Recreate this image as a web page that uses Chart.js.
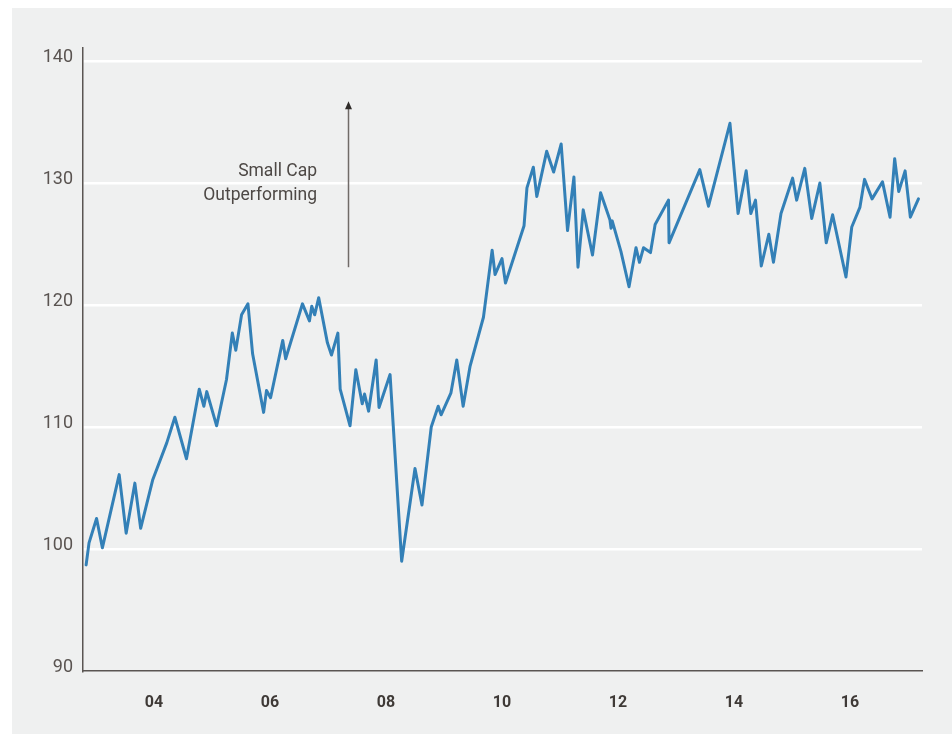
<!DOCTYPE html>
<html>
<head>
<meta charset="utf-8">
<script src="https://cdn.jsdelivr.net/npm/chart.js@4.4.1/dist/chart.umd.min.js"></script>
<style>
  html, body { margin: 0; padding: 0; background: #fff; }
  #wrap { position: absolute; left: 12px; top: 8px; width: 940px; height: 726px; background: #eff0f0; }
</style>
</head>
<body>
<div id="wrap"><canvas id="chart" width="940" height="726"></canvas></div>
<script>
// dates as decimal years
const years = [
  2002.83, 2002.88, 2003.01, 2003.11, 2003.40, 2003.52, 2003.67, 2003.77, 2003.98, 2004.22,
  2004.36, 2004.56, 2004.78, 2004.86, 2004.91, 2005.08, 2005.25, 2005.35, 2005.41, 2005.51,
  2005.62, 2005.70, 2005.89, 2005.94, 2006.01, 2006.22, 2006.27, 2006.56, 2006.68, 2006.72,
  2006.77, 2006.84, 2006.99, 2007.06, 2007.17, 2007.21, 2007.38, 2007.48, 2007.59, 2007.63,
  2007.70, 2007.83, 2007.88, 2008.07, 2008.27, 2008.50, 2008.62, 2008.78, 2008.90, 2008.95,
  2009.12, 2009.22, 2009.33, 2009.45, 2009.68, 2009.83, 2009.88, 2010.00, 2010.06, 2010.38,
  2010.43, 2010.54, 2010.60, 2010.77, 2010.89, 2011.02, 2011.13, 2011.24, 2011.31, 2011.40,
  2011.56, 2011.70, 2011.86, 2011.88, 2011.90, 2012.05, 2012.19, 2012.31, 2012.37, 2012.44,
  2012.56, 2012.64, 2012.87, 2012.88, 2013.41, 2013.56, 2013.93, 2014.07, 2014.21, 2014.29,
  2014.37, 2014.47, 2014.60, 2014.68, 2014.81, 2015.01, 2015.08, 2015.22, 2015.34, 2015.48,
  2015.59, 2015.70, 2015.93, 2016.03, 2016.17, 2016.25, 2016.38, 2016.56, 2016.69, 2016.77,
  2016.84, 2016.95, 2017.04, 2017.18
];
const relPerf = [
  98.7, 100.5, 102.5, 100.1, 106.1, 101.3, 105.4, 101.7, 105.7, 108.7,
  110.8, 107.4, 113.1, 111.7, 112.9, 110.1, 113.9, 117.7, 116.3, 119.2,
  120.1, 116.0, 111.2, 113.0, 112.4, 117.1, 115.6, 120.1, 118.7, 119.9,
  119.2, 120.6, 116.9, 115.9, 117.7, 113.1, 110.1, 114.7, 111.9, 112.7,
  111.3, 115.5, 111.6, 114.3, 99.0, 106.6, 103.6, 110.0, 111.7, 111.0,
  112.8, 115.5, 111.7, 115.0, 119.0, 124.5, 122.5, 123.8, 121.8, 126.5,
  129.6, 131.3, 128.9, 132.6, 130.9, 133.2, 126.1, 130.5, 123.1, 127.8,
  124.1, 129.2, 127.0, 126.3, 126.9, 124.4, 121.5, 124.7, 123.5, 124.7,
  124.3, 126.6, 128.6, 125.1, 131.1, 128.1, 134.9, 127.5, 131.0, 127.5,
  128.6, 123.2, 125.8, 123.5, 127.5, 130.4, 128.6, 131.2, 127.1, 130.0,
  125.1, 127.4, 122.3, 126.4, 128.0, 130.3, 128.7, 130.1, 127.2, 132.0,
  129.3, 131.0, 127.2, 128.7
];
const yearTicks = [2004, 2006, 2008, 2010, 2012, 2014, 2016];
const valueTicks = [90, 100, 110, 120, 130, 140];

const noteLines = ['Small Cap', 'Outperforming'];
const note = { x: 2006.81, y1: 130.9, y2: 129.0, arrowX: 2007.35, arrowFrom: 123.1, arrowTo: 136.7 };

const annotationPlugin = {
  id: 'note',
  afterDatasetsDraw(chart) {
    const { ctx, scales: { x, y } } = chart;
    ctx.save();
    ctx.font = '17.5px Roboto';
    ctx.fillStyle = '#4d4845';
    ctx.textAlign = 'right';
    ctx.textBaseline = 'middle';
    ctx.fillText(noteLines[0], x.getPixelForValue(note.x), y.getPixelForValue(note.y1));
    ctx.fillText(noteLines[1], x.getPixelForValue(note.x), y.getPixelForValue(note.y2));

    const ax = Math.round(x.getPixelForValue(note.arrowX)) + 0.5;
    const y0 = y.getPixelForValue(note.arrowFrom);
    const y1 = y.getPixelForValue(note.arrowTo);
    ctx.strokeStyle = '#706b68';
    ctx.lineWidth = 1.5;
    ctx.beginPath();
    ctx.moveTo(ax, y0);
    ctx.lineTo(ax, y1 + 5);
    ctx.stroke();
    ctx.fillStyle = '#2f2b29';
    ctx.beginPath();
    ctx.moveTo(ax, y1);
    ctx.lineTo(ax - 3.5, y1 + 8);
    ctx.lineTo(ax + 3.5, y1 + 8);
    ctx.closePath();
    ctx.fill();
    ctx.restore();
  }
};

new Chart(document.getElementById('chart'), {
  type: 'line',
  data: {
    datasets: [{
      data: years.map((yr, i) => ({ x: yr, y: relPerf[i] })),
      borderColor: '#3380b7',
      borderWidth: 3,
      borderJoinStyle: 'round',
      borderCapStyle: 'round',
      pointRadius: 0,
      tension: 0,
      fill: false
    }]
  },
  options: {
    responsive: false,
    animation: false,
    layout: { padding: { left: 0, top: 40, right: 30, bottom: 0 } },
    plugins: { legend: { display: false }, tooltip: { enabled: false } },
    scales: {
      x: {
        type: 'linear',
        min: 2002.776,
        max: 2017.241,
        afterBuildTicks(axis) { axis.ticks = yearTicks.map(v => ({ value: v })); },
        afterFit(axis) { axis.height = 63; },
        grid: { display: false, drawTicks: false },
        border: { color: '#5a5552', width: 1.5 },
        ticks: {
          padding: 22,
          maxRotation: 0,
          color: '#3f3a37',
          font: { family: 'Roboto', size: 16, weight: 'bold' },
          callback: v => String(v).slice(2)
        }
      },
      y: {
        min: 90,
        max: 141.07,
        afterBuildTicks(axis) { axis.ticks = valueTicks.map(v => ({ value: v })); },
        afterFit(axis) { axis.width = 71; },
        grid: {
          drawTicks: false,
          color: ctx => ctx.tick && ctx.tick.value === 90 ? 'rgba(0,0,0,0)' : '#ffffff',
          lineWidth: 2.5
        },
        border: { color: '#5a5552', width: 1.5 },
        ticks: {
          padding: 10,
          labelOffset: -4,
          color: '#5a5451',
          font: { family: 'Roboto', size: 18, weight: 'normal' }
        }
      }
    }
  },
  plugins: [annotationPlugin]
});
</script>
</body>
</html>
